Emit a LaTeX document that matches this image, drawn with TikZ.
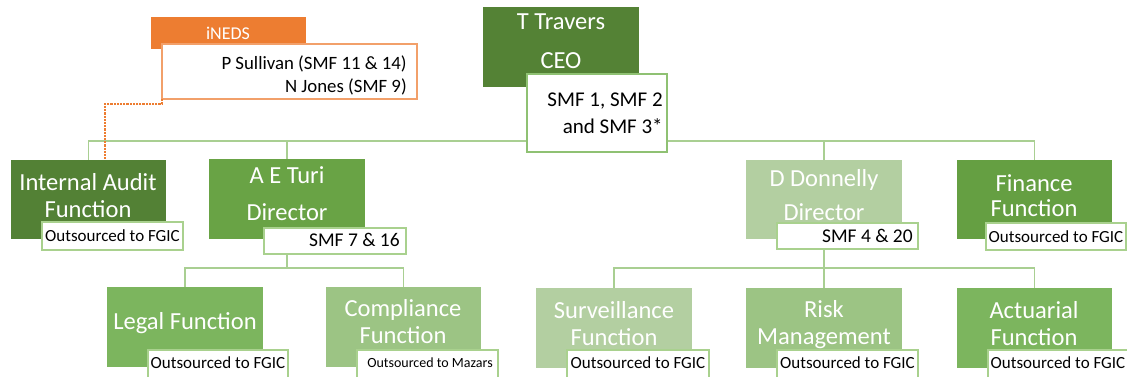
\documentclass[tikz,border=0pt]{standalone}
\usepackage{fontspec}
\setmainfont{Carlito}
\definecolor{cCEO}{HTML}{548235}
\definecolor{cIA}{HTML}{538135}
\definecolor{cTuri}{HTML}{69A345}
\definecolor{cFin}{HTML}{659F42}
\definecolor{cLegal}{HTML}{7CB55E}
\definecolor{cComp}{HTML}{9CC484}
\definecolor{cSurv}{HTML}{B3CFA1}
\definecolor{cLine}{HTML}{A9CF92}
\definecolor{cBord}{HTML}{8FC173}
\definecolor{cLBord}{HTML}{A9D18E}
\definecolor{cOr}{HTML}{ED7D31}
\definecolor{cOrB}{HTML}{F2A06A}
\tikzset{
  sz/.style 2 args={minimum width=#1*0.75pt, minimum height=#2*0.75pt},
  gbox/.style={rectangle, inner sep=0pt, outer sep=0pt},
  lbox/.style={rectangle, inner sep=0pt, outer sep=0pt, fill=white, draw=cLBord, line width=0.9pt},
  conn/.style={draw=cLine, line width=1.1pt},
  wt/.style={text=white, inner sep=0pt, align=center},
  bigf/.style={font=\fontsize{18.4pt}{#1}\selectfont},
  bt/.style={text=black, inner sep=0pt},
  ot/.style={bt, font=\fontsize{12.75pt}{15pt}\selectfont},
}
\begin{document}
\begin{tikzpicture}[x=0.75pt, y=-0.75pt]
\clip (0,0) rectangle (1127,377);
\fill[white] (0,0) rectangle (1127,377);
\coordinate (b1) at (0,141);
\coordinate (b2) at (0,268);
\coordinate (dz) at (105,104);
% boxes
\node[gbox, fill=cCEO, sz={156}{80}] (ceo) at (561,47) {};
\node[gbox, fill=cIA, sz={155}{79}] (ia) at (88.5,199.5) {};
\node[gbox, fill=cTuri, sz={156}{80}] (turi) at (287,199) {};
\node[gbox, fill=cSurv, sz={156}{79}] (don) at (824,199.5) {};
\node[gbox, fill=cFin, sz={155}{79}] (fin) at (1034.5,199.5) {};
\node[gbox, fill=cLegal, sz={156}{80}] (legal) at (185,327) {};
\node[gbox, fill=cComp, sz={155}{80}] (comp) at (403.5,327) {};
\node[gbox, fill=cSurv, sz={156}{80}] (surv) at (614,328) {};
\node[gbox, fill=cComp, sz={156}{80}] (risk) at (824,328) {};
\node[gbox, fill=cLegal, sz={155}{80}] (act) at (1034.5,328) {};
% connectors
\draw[conn] (ceo.south) -- (ceo.south |- b1) -| (ia.north);
\draw[conn] (ceo.south |- b1) -| (turi.north);
\draw[conn] (ceo.south |- b1) -| (don.north);
\draw[conn] (ceo.south |- b1) -| (fin.north);
\draw[conn] (turi.south) -- (turi.south |- b2) -| (legal.north);
\draw[conn] (turi.south |- b2) -| (comp.north);
\draw[conn] (don.south) -- (don.south |- b2) -| (surv.north);
\draw[conn] (don.south |- b2) -| (risk.north);
\draw[conn] (don.south |- b2) -| (act.north);
% iNEDS
\node[gbox, fill=cOr, sz={155}{32}] (ineds) at (228.5,33) {};
\node[rectangle, inner sep=0pt, outer sep=0pt, fill=white, draw=cOrB, line width=0.9pt, sz={255}{55}] (sull) at (289.5,71.5) {};
\draw[draw=cOr, line width=0.8pt, dash pattern=on 1.6pt off 0.8pt] (sull.south west) |- (dz) -- (dz |- ia.north);
% label boxes
\node[lbox, draw=cBord, sz={140}{78}] (smf1) at (597,113) {};
\node[lbox, sz={141}{28}] (iao) at (112.5,236) {};
\node[lbox, sz={142}{26}] (smf7) at (335,241) {};
\node[lbox, sz={141}{26}] (smf4) at (847.5,236) {};
\node[lbox, sz={140}{27}] (fino) at (1056,236.5) {};
\node[lbox, sz={140}{34}] (lego) at (218,367) {};
\node[lbox, sz={141}{34}] (compo) at (427.5,367) {};
\node[lbox, sz={142}{34}] (survo) at (638,367) {};
\node[lbox, sz={141}{34}] (risko) at (847.5,367) {};
\node[lbox, sz={140}{34}] (acto) at (1058,367) {};
% texts
\node[wt, font=\fontsize{13.5pt}{16pt}\selectfont] (tineds) at (228,33) {iNEDS};
\node[bt, align=right, anchor=east, font=\fontsize{14.1pt}{17.25pt}\selectfont] (tsull) at (407,75) {P Sullivan (SMF 11 \& 14)\\N Jones (SMF 9)};
\node[wt, bigf=29.25pt] (tceo) at (561,41.5) {T Travers\\CEO};
\node[bt, align=right, anchor=east, font=\fontsize{15.75pt}{20.25pt}\selectfont] (tsmf1) at (663,113.5) {SMF 1, SMF 2\\and SMF 3*};
\node[wt, bigf=20.25pt] (tia) at (88,195.5) {Internal Audit\\Function};
\node[wt, bigf=27.75pt] (tturi) at (287,193.5) {A E Turi\\Director};
\node[wt, bigf=25.5pt] (tdon) at (824,195) {D Donnelly\\Director};
\node[wt, bigf=18.75pt] (tfin) at (1034,195.5) {Finance\\Function};
\node[wt, bigf=20.25pt] (tlegal) at (185,323.5) {Legal Function};
\node[wt, bigf=20.25pt] (tcomp) at (403,321.5) {Compliance\\Function};
\node[wt, bigf=20.25pt] (tsurv) at (614,323.5) {Surveillance\\Function};
\node[wt, bigf=20.25pt] (trisk) at (824,325) {Risk\\Management};
\node[wt, bigf=20.25pt] (tact) at (1034,323.5) {Actuarial\\Function};
\node[ot] (tiao) at (iao.center) {Outsourced to FGIC};
\node[ot] (tfino) at (fino.center) {Outsourced to FGIC};
\node[ot] (tlego) at (218,363) {Outsourced to FGIC};
\node[ot] (tsurvo) at (638,363) {Outsourced to FGIC};
\node[ot] (triskio) at (847.5,363) {Outsourced to FGIC};
\node[ot] (tacto) at (1058,363) {Outsourced to FGIC};
\node[bt, font=\fontsize{10.5pt}{12pt}\selectfont] (tcompo) at (430,363) {Outsourced to Mazars};
\node[bt, anchor=east, font=\fontsize{14.6pt}{17pt}\selectfont] (tsmf7) at (400,240) {SMF 7 \& 16};
\node[bt, anchor=east, font=\fontsize{14.6pt}{17pt}\selectfont] (tsmf4) at (913,236) {SMF 4 \& 20};
\end{tikzpicture}
\end{document}
